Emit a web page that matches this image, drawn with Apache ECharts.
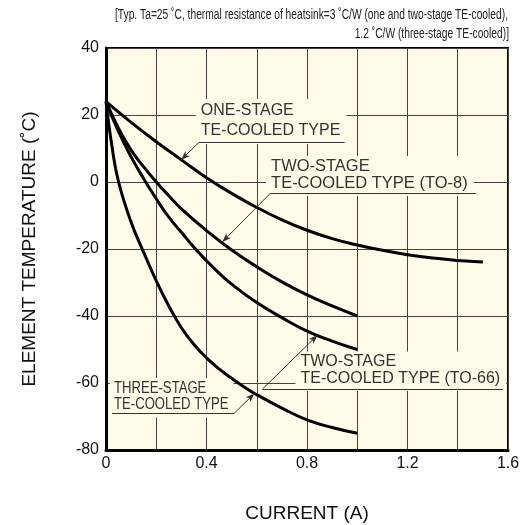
<!DOCTYPE html>
<html><head><meta charset="utf-8">
<script src="https://cdn.jsdelivr.net/npm/echarts@6/dist/echarts.min.js"></script>
<style>html,body{margin:0;padding:0;background:#fff}#c{width:520px;height:525px}</style>
</head><body><div id="c"></div>
<script>
// ---- data ----
const oneStageX = [0, 0.1, 0.2, 0.3, 0.4, 0.5, 0.6, 0.7, 0.8, 0.9, 1.0, 1.1, 1.2, 1.3, 1.4, 1.5];
const oneStageY = [24, 17.8, 12, 6.6, 1.3, -3.4, -7.6, -11.3, -14.4, -16.9, -18.8, -20.4, -21.7, -22.7, -23.4, -23.9];
const twoStageTO8X = [0, 0.05, 0.1, 0.15, 0.2, 0.25, 0.3, 0.4, 0.5, 0.6, 0.7, 0.8, 0.9, 1.0];
const twoStageTO8Y = [24, 16, 9.5, 4.5, 0, -4.1, -8, -14.5, -20.3, -25.3, -29.8, -33.7, -37, -40];
const twoStageTO66X = [0, 0.05, 0.1, 0.15, 0.2, 0.25, 0.3, 0.35, 0.4, 0.45, 0.5, 0.6, 0.7, 0.8, 0.9, 1.0];
const twoStageTO66Y = [24, 15, 7.5, 1, -5, -10.5, -15, -19.5, -23.5, -27.2, -30.5, -36, -40.5, -44.5, -47.5, -50];
const threeStageX = [0, 0.025, 0.05, 0.1, 0.15, 0.2, 0.25, 0.3, 0.35, 0.4, 0.45, 0.5, 0.55, 0.6, 0.7, 0.8, 0.9, 1.0];
const threeStageY = [24, 10, 0, -12, -21, -29.5, -37, -43.5, -48.5, -52.5, -55.8, -58.6, -61.2, -63.5, -67.5, -71, -73.3, -75];

const xTickLabels = ['0', '0.4', '0.8', '1.2', '1.6'];
const yTickLabels = ['-80', '-60', '-40', '-20', '0', '20', '40'];

const subtitleLines = [
  '[Typ. Ta=25 \u02DAC, thermal resistance of heatsink=3 \u02DAC/W (one and two-stage TE-cooled),',
  '1.2 \u02DAC/W (three-stage TE-cooled)]'
];
const xAxisName = 'CURRENT (A)';
const yAxisName = 'ELEMENT TEMPERATURE (\u02DAC)';

// annotation labels: text rows, anchor (left, first row centre) in data units, row spacing
const annoOne = { text: 'ONE-STAGE\nTE-COOLED TYPE', at: [0.377, 21.3], lh: 19.5, sx: 1 };
const annoTO8 = { text: 'TWO-STAGE\nTE-COOLED TYPE (TO-8)', at: [0.657, 4.6], lh: 17, sx: 1.03 };
const annoTO66 = { text: 'TWO-STAGE\nTE-COOLED TYPE (TO-66)', at: [0.774, -53.7], lh: 16.7, sx: 1 };
const annoThree = { text: 'THREE-STAGE\nTE-COOLED TYPE', at: [0.032, -61.6], lh: 16.7, sx: 0.82 };
// leader lines: [underline end, corner, arrow tip]
const leaderOne = [[0.95, 11.9], [0.371, 11.9], [0.299, 6.6]];
const leaderTO8 = [[1.472, -3.3], [0.655, -3.3], [0.463, -17.9]];
const leaderTO66 = [[1.58, -61.8], [0.623, -61.8], [0.842, -45.7]];
const leaderThree = [[0.024, -69], [0.511, -69], [0.591, -63.1]];

// ---- chart ----
const FONT = '"Liberation Sans", Arial, Helvetica, sans-serif';
const CREAM = '#FFFBE8';
function pairs(xs, ys) { return xs.map((x, i) => [x, ys[i]]); }
function leader(l) {
  return [
    [{ coord: l[0], symbol: 'none' }, { coord: l[1], symbol: 'none' }],
    [{ coord: l[1], symbol: 'none' }, { coord: l[2], symbol: 'arrow', symbolSize: [5, 9] }]
  ];
}
const curveStyle = { color: '#000', width: 3 };
function curve(name, xs, ys, extra) {
  return Object.assign({
    type: 'line', name, data: pairs(xs, ys), smooth: 0.45,
    symbol: 'none', lineStyle: curveStyle, z: 3, silent: true
  }, extra || {});
}

const chart = echarts.init(document.getElementById('c'), null, { renderer: 'canvas' });
const option = {
  animation: false,
  backgroundColor: '#fff',
  grid: { left: 106, right: 12, top: 48, bottom: 75, show: true, backgroundColor: CREAM,
          borderColor: '#000', borderWidth: 2, containLabel: false, outerBoundsMode: 'none' },
  xAxis: {
    type: 'value', min: 0, max: 1.6, interval: 0.2,
    axisLine: { show: true, onZero: false, lineStyle: { color: '#000', width: 3 } },
    axisTick: { show: false },
    splitLine: { show: true, lineStyle: { color: '#444', width: 1 } },
    axisLabel: { color: '#111', fontSize: 16, fontFamily: FONT, margin: 6,
      formatter: v => { const i = Math.round(v / 0.4 * 1000) / 1000; return Number.isInteger(i) ? xTickLabels[i] : ''; } },
    name: xAxisName, nameLocation: 'middle', nameGap: 54,
    nameTextStyle: { fontSize: 19, fontFamily: FONT, color: '#111' }
  },
  yAxis: {
    type: 'value', min: -80, max: 40, interval: 20,
    axisLine: { show: true, onZero: false, lineStyle: { color: '#000', width: 3 } },
    axisTick: { show: false },
    splitLine: { show: true, lineStyle: { color: '#444', width: 1 } },
    axisLabel: { color: '#111', fontSize: 16, fontFamily: FONT, margin: 7,
      formatter: v => yTickLabels[Math.round((v + 80) / 20)] },
    name: yAxisName, nameLocation: 'middle', nameGap: 67,
    nameTextStyle: { fontSize: 19, fontFamily: FONT, color: '#111' }
  },
  series: [
    curve('one', oneStageX, oneStageY, {
      markLine: { silent: true, animation: false, symbol: ['none', 'none'],
        label: { show: false }, lineStyle: { color: '#333', width: 1, type: 'solid' },
        emphasis: { disabled: true },
        data: [].concat(leader(leaderOne), leader(leaderTO8), leader(leaderTO66), leader(leaderThree)) }
    }),
    curve('to8', twoStageTO8X, twoStageTO8Y),
    curve('to66', twoStageTO66X, twoStageTO66Y),
    curve('three', threeStageX, threeStageY)
  ]
};
chart.setOption(option);

function measure(text, font) {
  const c = document.createElement('canvas').getContext('2d');
  c.font = font; return c.measureText(text).width;
}
const SUBFONT = '14px "Liberation Sans"';
const sub1W = measure(subtitleLines[0], SUBFONT);
const subScale = 393 / sub1W;

const PADL = 5, PADT = 2;
function annoGraphic(a) {
  const p = chart.convertToPixel({ gridIndex: 0 }, a.at);
  return {
    type: 'text', z: 1, silent: true, scaleX: a.sx,
    x: p[0] - PADL * a.sx, y: p[1] - a.lh / 2 - PADT,
    style: { text: a.text, font: '16px ' + FONT, fill: '#333', lineHeight: a.lh,
      backgroundColor: CREAM, padding: [PADT, 6, 4, PADL], align: 'left', verticalAlign: 'top' }
  };
}
chart.setOption({
  graphic: [
    annoGraphic(annoOne), annoGraphic(annoTO8), annoGraphic(annoTO66), annoGraphic(annoThree),
    { type: 'text', silent: true, x: 115, y: 15.5, scaleX: subScale,
      style: { text: subtitleLines[0], font: SUBFONT, fill: '#222', align: 'left', verticalAlign: 'middle' } },
    { type: 'text', silent: true, x: 509, y: 34, scaleX: subScale,
      style: { text: subtitleLines[1], font: SUBFONT, fill: '#222', align: 'right', verticalAlign: 'middle' } }
  ]
});
</script></body></html>
